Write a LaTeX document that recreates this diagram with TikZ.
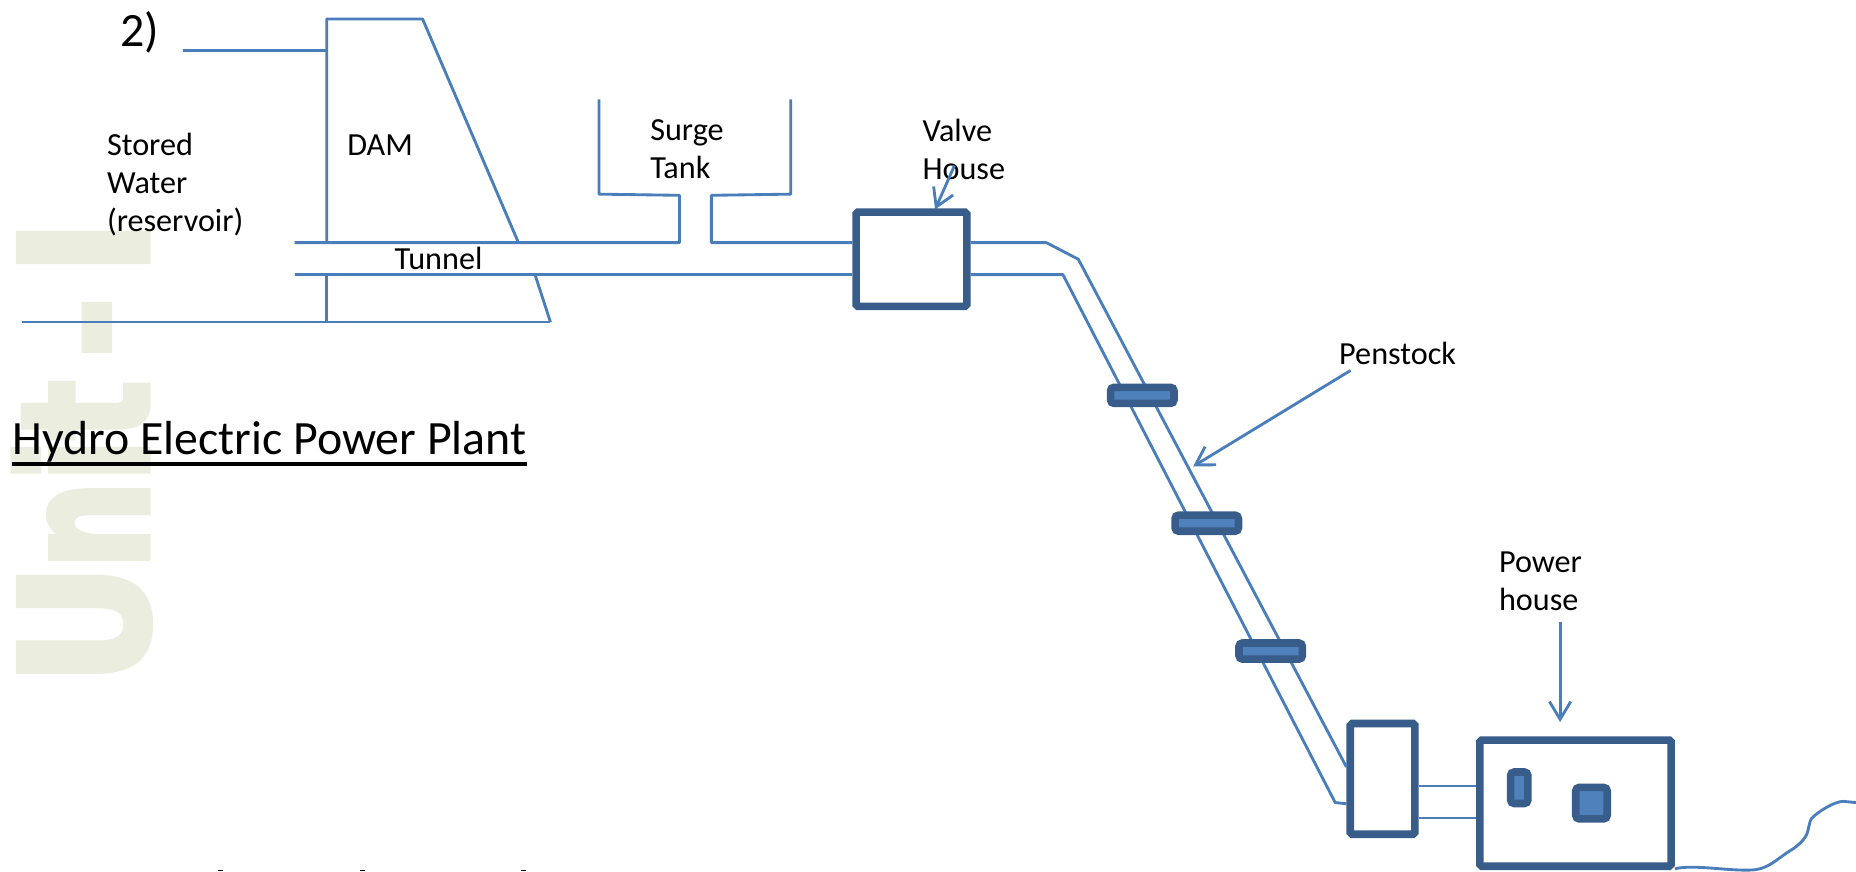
\documentclass[tikz,border=0pt]{standalone}
\usepackage{fontspec}
\usepackage{xcolor}
\usetikzlibrary{arrows.meta, positioning}
\setmainfont{Carlito}
\newfontfamily\wmfont[FakeStretch=0.84,FakeBold=3]{DejaVu Sans Bold}
\newfontfamily\wmtight[FakeStretch=0.69,FakeBold=3]{DejaVu Sans Bold}
\definecolor{pipeblue}{RGB}{74,126,187}
\definecolor{boxblue}{RGB}{56,93,138}
\definecolor{fillblue}{RGB}{79,129,189}
\definecolor{wmark}{RGB}{235,238,223}

\begin{document}
\begin{tikzpicture}[x=0.5pt, y=-0.5pt,
  lbl/.style={anchor=west, inner sep=0pt, align=left, font=\fontsize{13.6}{16}\selectfont},
  big/.style={anchor=west, inner sep=0pt, font=\fontsize{20.2}{24}\selectfont},
  box/.style={rectangle, rounded corners=0.8pt, draw=boxblue, line width=3.2pt, fill=white, inner sep=0pt},
  solid box/.style={box, fill=fillblue, rounded corners=1.5pt},
  pipe/.style={draw=pipeblue, line width=1.2pt, line join=round},
  a/.style={pipe, -{Straight Barb[length=7.5pt, width=9pt]}}]
  \useasboundingbox (0,0) rectangle (1568,736);
  % watermark
  \node[anchor=base west, rotate=90, inner sep=0pt, text=wmark,
        font=\fontsize{75}{75}\wmfont] (wm) at (125,579) {U\kern-2pt{\wmtight nit}\kern9.5pt-\kern9pt I};
  % labels
  \node[big] (num) at (101,27) {2)};
  \node[big] (title) at (10,373) {Hydro Electric Power Plant};
  \draw[black, line width=1.5pt] ([yshift=-4pt]title.base west) -- ([yshift=-4pt]title.base east);
  \node[lbl] (store) at (90,156) {Stored\\Water\\(reservoir)};
  \node[lbl] (damlbl) at (293,123) {DAM};
  \node[lbl] (tun) at (333,218) {Tunnel};
  \node[lbl] (surge) at (549,126) {Surge\\Tank};
  \node[lbl] (valve) at (779,126) {Valve\\House};
  \node[lbl] (pen) at (1131,299) {Penstock};
  \node[lbl] (pow) at (1266,491) {Power\\house};
  % boxes
  \node[box, minimum width=46.8pt, minimum height=39.8pt] (vh) at (770,219) {};
  \node[box, minimum width=27.3pt, minimum height=46.8pt] (tb) at (1168,658) {};
  \node[box, minimum width=80.8pt, minimum height=53.3pt] (ph) at (1331,678.5) {};
  \node[solid box, minimum width=7.3pt, minimum height=13.3pt] (gen) at (1283.5,665.5) {};
  \node[solid box, minimum width=13.3pt, minimum height=13.3pt] (exc) at (1344.5,678.5) {};
  % dam and reservoir
  \draw[pipe] (249,205) -- (574,205) -- (574,165) -- (506,164) -- (506,84);
  \draw[pipe] (276,205) -- (276,16) -- (357,16) -- (438,205);
  \draw[pipe] (155,43) -- (276,43);
  \draw[pipe] (276,232) -- (276,272);
  \draw[pipe] (452,232) -- (465,272);
  \draw[pipe] (19,272) -- (465,272);
  \draw[pipe] (249,232) -- (vh.west |- 249,232);
  \draw[pipe] (668,84) -- (668,164) -- (601,165) -- (601,205) -- (vh.west |- 601,205);
  % penstock
  \draw[pipe] (vh.east |- 884,205) -- (884,205) -- (911,219) -- (tb.west |- 911,648);
  \draw[pipe] (vh.east |- 898,232) -- (898,232) -- (1128,678) -- (tb.west |- 1128,679);
  \node[solid box, minimum width=26.8pt, minimum height=6.8pt] (c1) at (965,334) {};
  \node[solid box, minimum width=26.8pt, minimum height=6.8pt] (c2) at (1019.5,442) {};
  \node[solid box, minimum width=26.8pt, minimum height=6.8pt] (c3) at (1073.5,550) {};
  % turbine to power house
  \draw[pipe] (tb.east |- 1198,664) -- (ph.west |- 1198,664);
  \draw[pipe] (tb.east |- 1198,691) -- (ph.west |- 1198,691);
  \draw[pipe] (ph.east |- 1415,734) .. controls (1430,730) and (1460,736) .. (1480,735)
    .. controls (1495,734) and (1500,726) .. (1515,717)
    .. controls (1530,706) and (1526,702) .. (1530,692)
    .. controls (1535,686) and (1550,677) .. (1557,677) -- (1568,678);
  % pointers
  \coordinate (vtip) at (790,177);
  \coordinate (ptip) at (1008,394);
  \coordinate (htip) at (1318,610);
  \draw[a] ([xshift=-4pt, yshift=-7pt]valve.center) -- (vtip);
  \draw[a] ([xshift=5pt, yshift=-2pt]pen.south west) -- (ptip);
  \draw[a] (pow.south -| htip) ++(0,9) -- (htip);
  % clipped text at the lower edge
  \foreach \dotx in {186,306,442}
    \fill[black] (\dotx-2,735) rectangle (\dotx+2,736);
\end{tikzpicture}
\end{document}
